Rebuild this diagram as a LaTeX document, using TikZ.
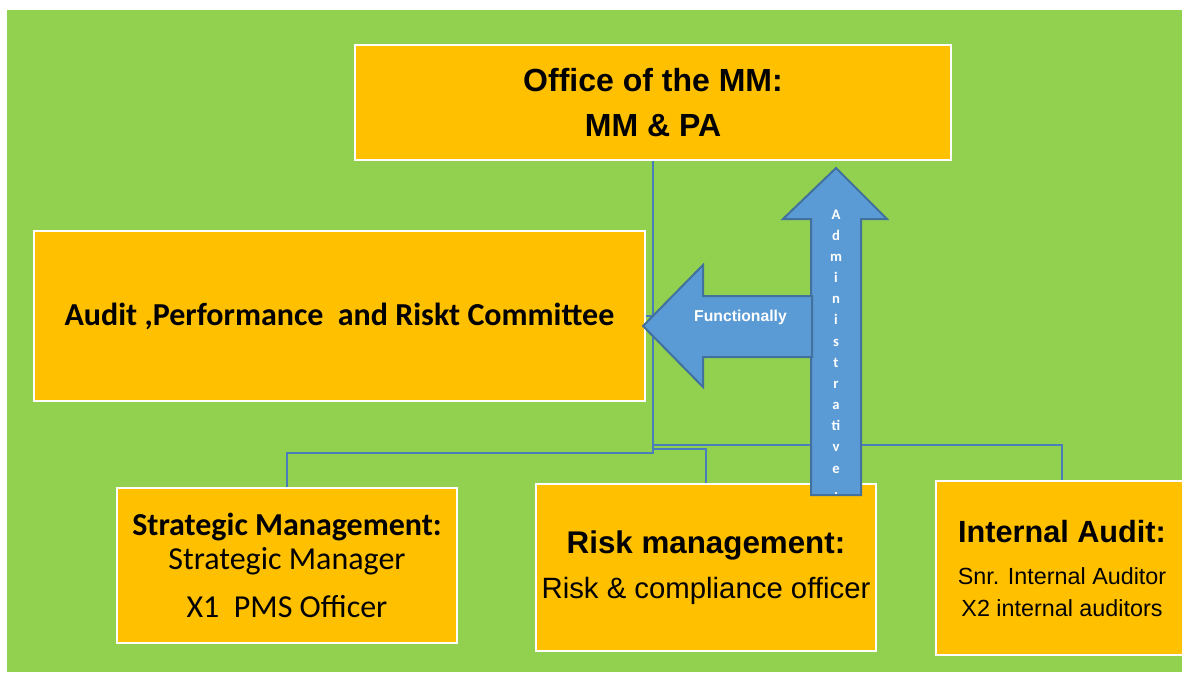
\documentclass[tikz,border=0pt]{standalone}
\usepackage{fontspec}
\setmainfont{Liberation Sans}
\newfontfamily\calibri{Carlito}
\definecolor{bggreen}{HTML}{92D050}
\definecolor{boxorange}{HTML}{FFC000}
\definecolor{arrowblue}{HTML}{5B9BD5}
\definecolor{arrowedge}{HTML}{41719C}
\definecolor{linkblue}{HTML}{4A7EBB}
\tikzset{
  unitbox/.style={draw=white, line width=1.5pt, fill=boxorange, align=center, inner sep=0pt},
  link/.style={draw=linkblue, line width=1.5pt},
  bigarrow/.style={draw=arrowedge, fill=arrowblue, line width=1.5pt, line join=miter},
}

\begin{document}
\begin{tikzpicture}[x=0.75pt,y=-0.75pt]
  \useasboundingbox (0,0) rectangle (1182,672);
  \fill[bggreen] (7,10) rectangle (1182,672);

  % units
  \node[unitbox, minimum width=447pt, minimum height=86.25pt,
        font=\fontsize{24}{33.75}\selectfont\bfseries] (mm) at (653,102.5)
        {Office of the MM:\\MM \& PA};
  \node[unitbox, minimum width=458.25pt, minimum height=127.5pt,
        font=\calibri\fontsize{24}{26}\selectfont\bfseries] (apc) at (339.5,316)
        {Audit ,Performance\ \ and Riskt Committee};
  \node[unitbox, minimum width=255pt, minimum height=116.25pt,
        font=\calibri\fontsize{24}{25.5}\selectfont] (sm) at (287,565.5)
        {\textbf{Strategic Management:}\\Strategic Manager\\[11pt]X1\ \ PMS Officer};
  \node[unitbox, minimum width=255pt, minimum height=125.25pt,
        font=\fontsize{22}{33.75}\selectfont] (rm) at (706,567.5)
        {{\fontsize{23.5}{33.75}\selectfont\bfseries Risk management:}\\Risk \& compliance officer};
  \node[unitbox, minimum width=189pt, minimum height=130.5pt,
        font=\fontsize{17.5}{24}\selectfont] (ia) at (1062,568)
        {{\fontsize{23}{24}\selectfont\bfseries Internal Audit:}\\[7.5pt]Snr. Internal Auditor\\X2 internal auditors};

  % reporting lines
  \coordinate (busR) at (0,445);
  \coordinate (busM) at (0,449);
  \coordinate (busL) at (0,453);
  \draw[link] (mm.south) |- (ia.north |- busR) -- (ia.north);
  \draw[link] (mm.south) |- (rm.north |- busM) -- (rm.north);
  \draw[link] (mm.south) |- (sm.north |- busL) -- (sm.north);
  \draw[link] (apc.east) -- (apc.east -| mm.south);

  % big arrows
  \draw[bigarrow] (811,495) -- (811,219) -- (783,219) -- (836,168) -- (887,219)
    -- (861,219) -- (861,495) -- cycle;
  \draw[bigarrow] (812,296) -- (703,296) -- (703,265) -- (643,326) -- (703,387)
    -- (703,357) -- (812,357) -- cycle;
  \node[text=white, font=\fontsize{11.8}{12}\selectfont\bfseries] (fn) at (740.5,317) {Functionally};
  \node[text=white, align=center, inner sep=0pt,
        font=\calibri\fontsize{11}{15.86}\selectfont\bfseries] (adm) at (836,352)
        {A\\d\\m\\i\\n\\i\\s\\t\\r\\a\\ti\\v\\e\\.};
\end{tikzpicture}
\end{document}
